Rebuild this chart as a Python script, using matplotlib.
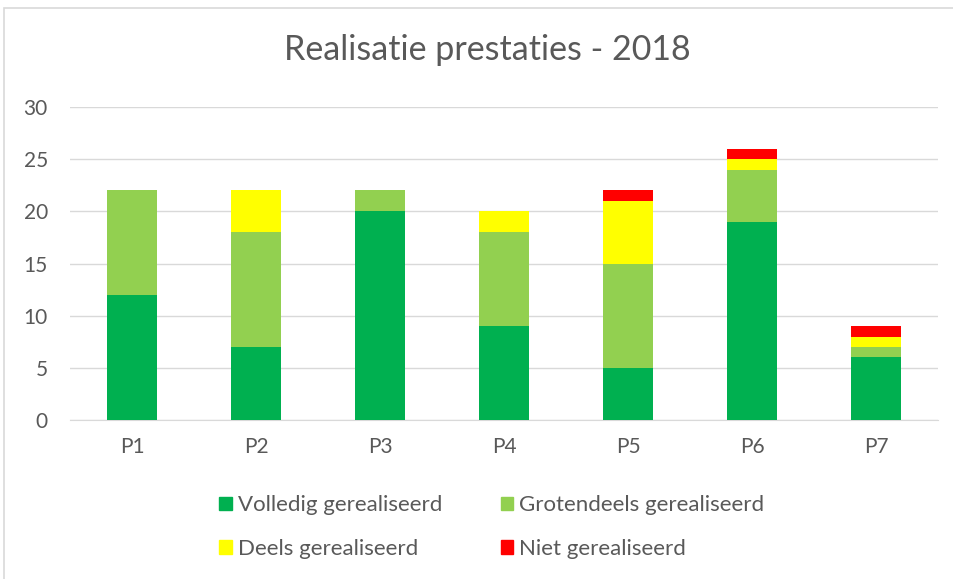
import matplotlib
matplotlib.use("Agg")
import matplotlib.pyplot as plt
from matplotlib.patches import Rectangle, Patch
import numpy as np

plt.rcParams['font.family'] = ['Lato', 'DejaVu Sans']

categories = ["P1", "P2", "P3", "P4", "P5", "P6", "P7"]
volledig = [12, 7, 20, 9, 5, 19, 6]
grotendeels = [10, 11, 2, 9, 10, 5, 1]
deels = [0, 4, 0, 2, 6, 1, 1]
niet = [0, 0, 0, 0, 1, 1, 1]
series = [
    ("Volledig gerealiseerd", volledig, "#00b050"),
    ("Grotendeels gerealiseerd", grotendeels, "#92d050"),
    ("Deels gerealiseerd", deels, "#ffff00"),
    ("Niet gerealiseerd", niet, "#ff0000"),
]

fig = plt.figure(figsize=(9.54, 5.79), dpi=100)
fig.patches.append(Rectangle((4/954, -0.01), 1.0, 1 - 8/579 + 0.01, transform=fig.transFigure,
                             fill=False, edgecolor="#d9d9d9", linewidth=1.2))
ax = fig.add_axes([70/954, 1 - 420/579, 868/954, 313/579])

x = np.arange(len(categories))
bottom = np.zeros(len(categories))
for name, vals, col in series:
    ax.bar(x, vals, width=0.4, bottom=bottom, color=col, label=name, zorder=3)
    bottom += np.array(vals)

ax.set_xlim(-0.5, len(categories) - 0.5)
ax.set_ylim(0, 30)
ax.set_yticks(range(0, 31, 5))
ax.set_xticks(x)
ax.set_xticklabels(categories)
ax.grid(axis="y", color="#d9d9d9", linewidth=1.0, zorder=0)
for s in ["top", "right", "left"]:
    ax.spines[s].set_visible(False)
ax.spines["bottom"].set_color("#d9d9d9")
ax.tick_params(axis="both", length=0, labelsize=15, colors="#595959")
ax.tick_params(axis="x", pad=12)
ax.tick_params(axis="y", pad=16)

fig.text(487/954, 1 - 50/579, "Realisatie prestaties - 2018", ha="center", va="center",
         fontsize=24.5, color="#595959")

handles = {n: Patch(color=c, label=n) for n, _, c in series}
order = ["Volledig gerealiseerd", "Deels gerealiseerd", "Grotendeels gerealiseerd", "Niet gerealiseerd"]
fig.legend(handles=[handles[n] for n in order], ncol=2, loc="center", bbox_to_anchor=(492/954, 1 - 527/579),
           frameon=False, fontsize=16, labelcolor="#595959", handlelength=0.55,
           handleheight=0.55, handletextpad=0.3, columnspacing=2.6, labelspacing=1.05)

fig.savefig("out.png", dpi=100)
